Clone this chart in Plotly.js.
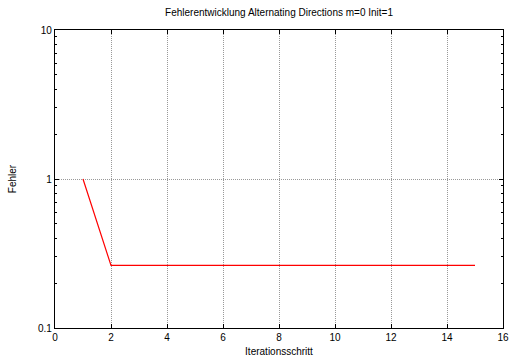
<!DOCTYPE html>
<html><head><meta charset="utf-8">
<script src="https://cdn.plot.ly/plotly-3.0.1.min.js"></script>
<style>html,body{margin:0;padding:0;background:#fff}#c{width:512px;height:360px}</style>
</head><body><div id="c"></div>
<script>
const iterations = [1, 2, 3, 4, 5, 6, 7, 8, 9, 10, 11, 12, 13, 14, 15];
const errors = [1.0, 0.263, 0.263, 0.263, 0.263, 0.263, 0.263, 0.263, 0.263, 0.263, 0.263, 0.263, 0.263, 0.263, 0.263];
const xTicks = [0, 2, 4, 6, 8, 10, 12, 14, 16];
const yTicks = [0.1, 1, 10];
const yTickText = ['0.1', '1', '10'];

const font = {family: 'Liberation Sans, Arial, sans-serif', size: 10, color: '#000'};
Plotly.newPlot('c', [{
  x: iterations, y: errors, type: 'scatter', mode: 'lines',
  line: {color: '#ff0000', width: 1.2}, showlegend: false
}], {
  width: 512, height: 360,
  margin: {l: 55, r: 9, t: 30, b: 32},
  paper_bgcolor: '#fff', plot_bgcolor: '#fff',
  font: font,
  title: {text: 'Fehlerentwicklung Alternating Directions m=0 Init=1', font: {family: font.family, size: 10}, x: 0.545, xanchor: 'center', y: 0.965, yanchor: 'middle'},
  xaxis: {
    range: [0, 16], tickvals: xTicks, ticktext: xTicks.map(String),
    ticks: 'inside', ticklen: 4, tickcolor: '#000', mirror: 'allticks',
    showline: true, linecolor: '#000', linewidth: 1.2,
    showgrid: true, gridcolor: '#999', griddash: '1px,1px', gridwidth: 1,
    zeroline: false, tickfont: {size: 10},
    title: {text: 'Iterationsschritt', font: {size: 10}, standoff: 5}
  },
  yaxis: {
    type: 'log', range: [-1, 1], tickvals: yTicks, ticktext: yTickText,
    ticks: 'inside', ticklen: 4, tickcolor: '#000', mirror: 'allticks',
    showline: true, linecolor: '#000', linewidth: 1.2,
    showgrid: true, gridcolor: '#999', griddash: '1px,1px', gridwidth: 1,
    zeroline: false, tickfont: {size: 10},
    minor: {ticks: 'inside', ticklen: 2, tickcolor: '#000', showgrid: false, dtick: 'D1'},
    title: {text: 'Fehler', font: {size: 10}, standoff: 19}
  }
}, {staticPlot: true});
</script></body></html>
